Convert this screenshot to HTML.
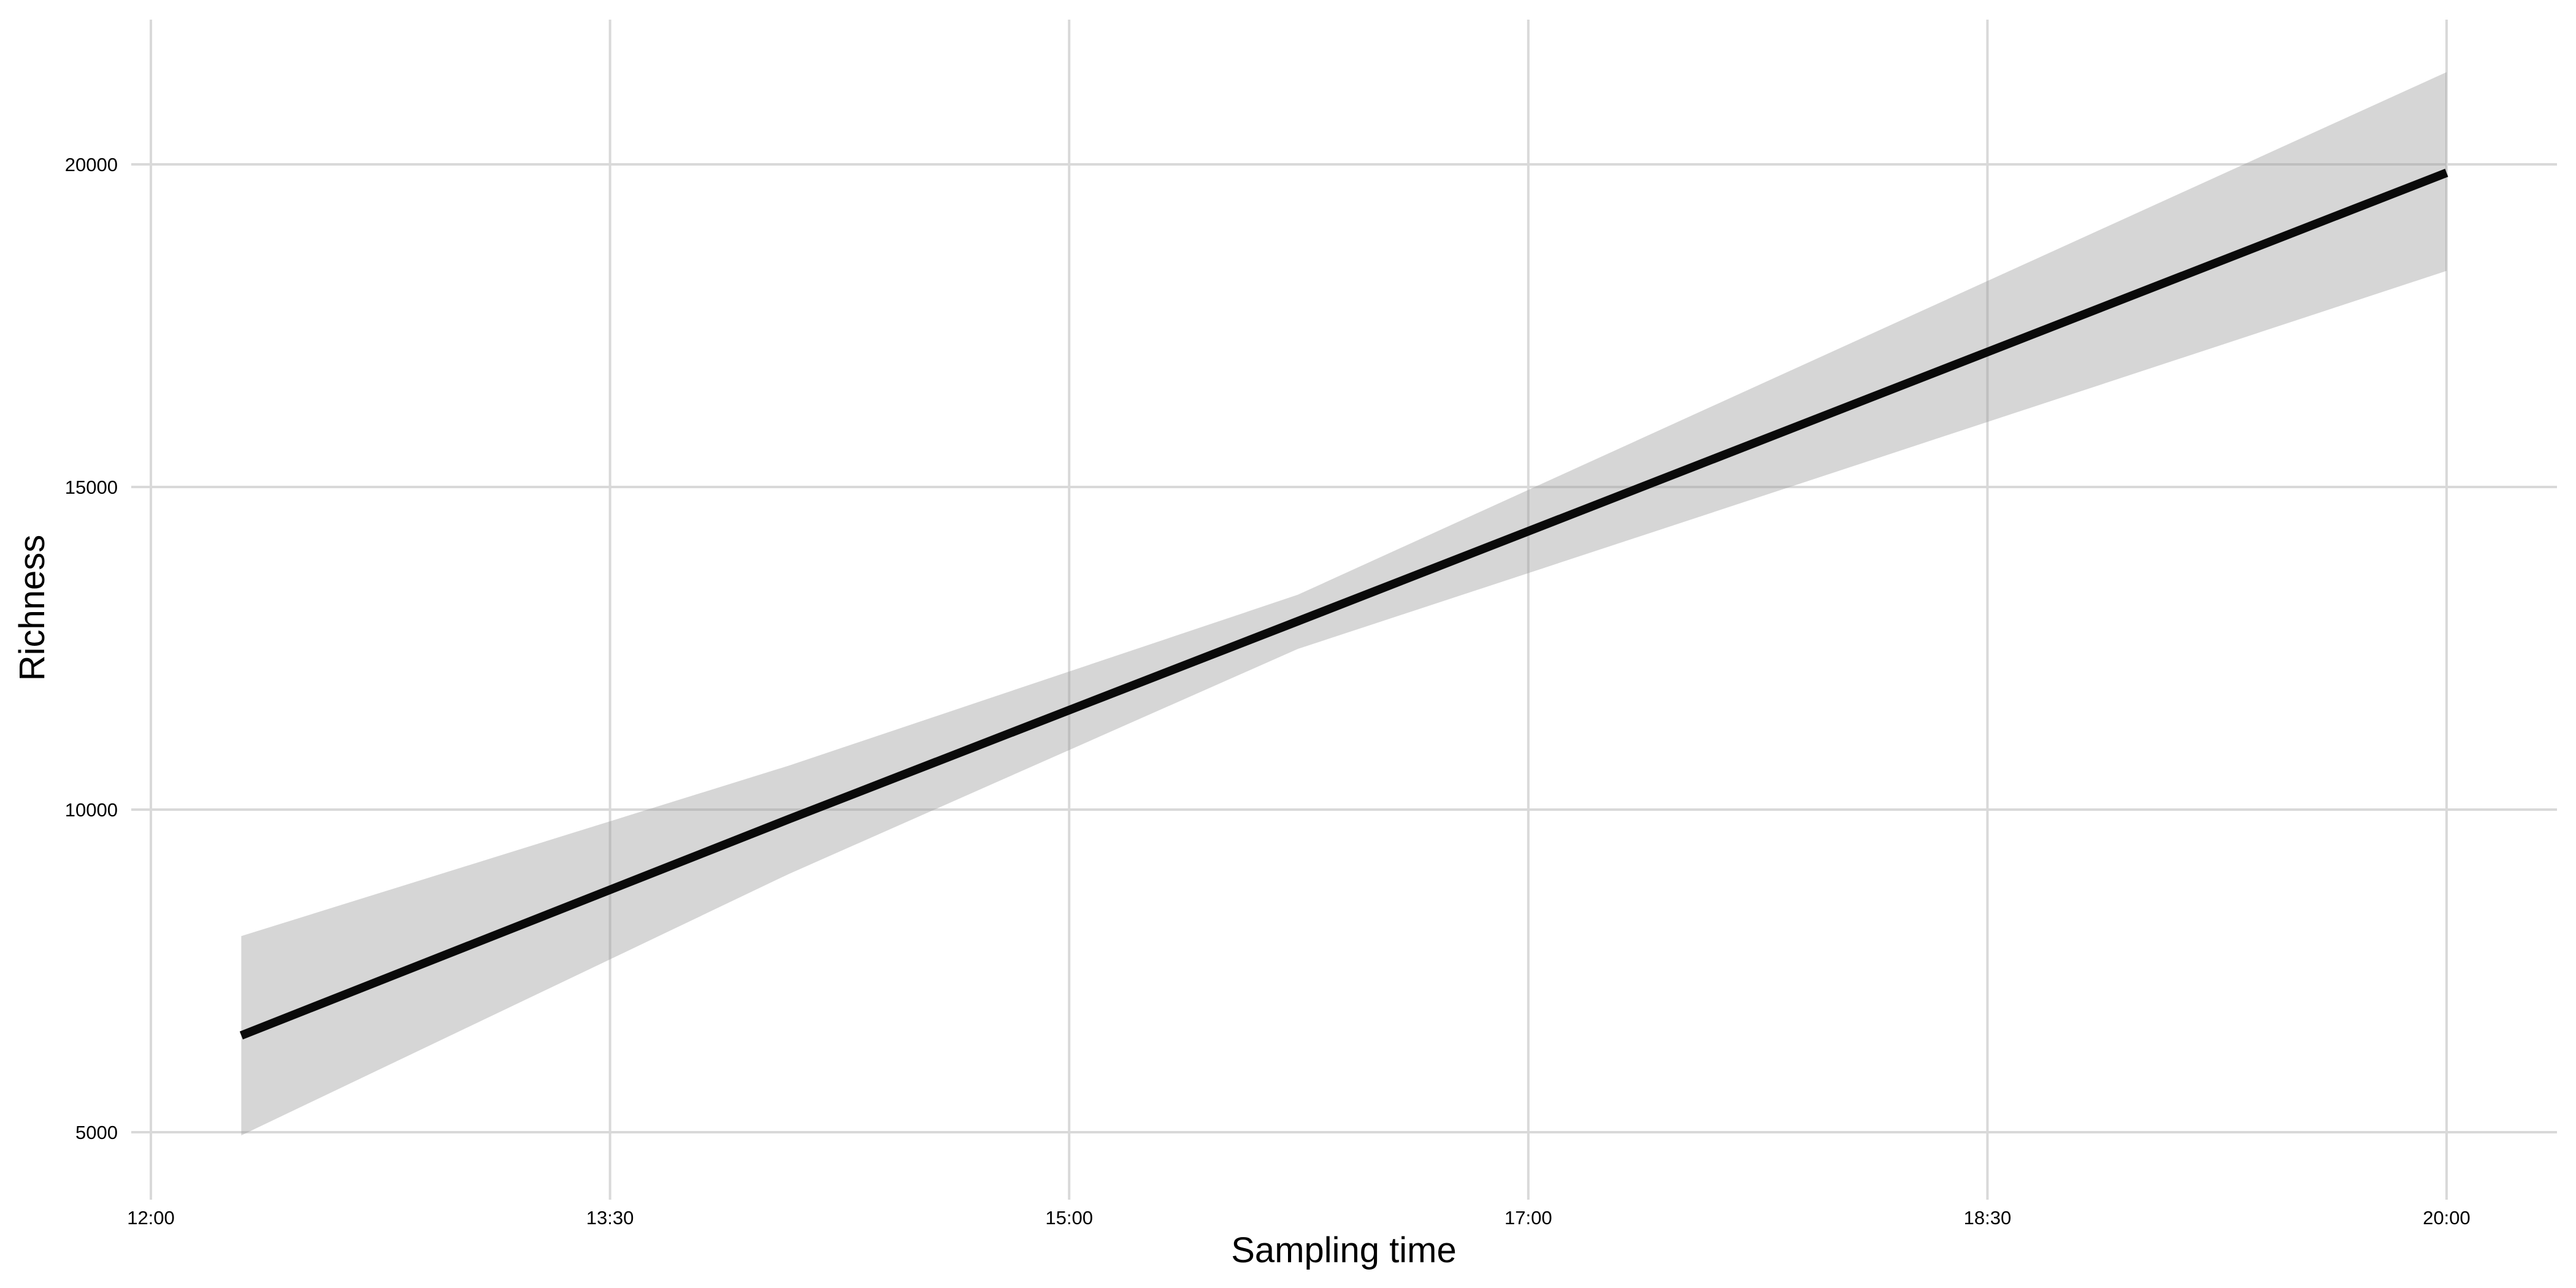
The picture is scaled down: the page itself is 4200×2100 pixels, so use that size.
<!DOCTYPE html>
<html><head><meta charset="utf-8"><style>html,body{margin:0;padding:0;background:#fff}svg{display:block}</style></head>
<body>
<svg id="chart" width="4200" height="2100" xmlns="http://www.w3.org/2000/svg" font-family="Liberation Sans, Arial, sans-serif">
<g id="grid"></g>
<g id="ribbon"></g>
<g id="line"></g>
<g id="axes"></g>
<text x="2191" y="2058" font-size="58" text-anchor="middle">Sampling time</text>
<text transform="translate(72,991) rotate(-90)" font-size="58" text-anchor="middle">Richness</text>
</svg>
<script>
const xTickHours = [0, 1.6, 3.2, 4.8, 6.4, 8];
const xTickText = ["12:00", "13:30", "15:00", "17:00", "18:30", "20:00"];
const yTicks = [5000, 10000, 15000, 20000];
const timeHours = [0.315, 2.222, 3.997, 8];
const fitValues = [6500, 9850, 12920, 19870];
const upperValues = [8040, 10680, 13330, 21430];
const lowerValues = [4950, 9000, 12490, 18350];

const X0 = 246, X1 = 3989, Y5 = 1846, Y20 = 268;
function sx(h){ return X0 + (h/8)*(X1-X0); }
function sy(v){ return Y5 + (v-5000)/15000*(Y20-Y5); }
const NS = "http://www.w3.org/2000/svg";
function mk(tag, parent){ const e = document.createElementNS(NS, tag); document.getElementById(parent).appendChild(e); return e; }

xTickHours.forEach((h,i)=>{
  const l = mk('line','grid');
  
  
  l.setAttribute('x1',sx(h)); l.setAttribute('x2',sx(h)); l.setAttribute('y1',32); l.setAttribute('y2',1956);
  l.setAttribute('stroke','#d9d9d9'); l.setAttribute('stroke-width','4');
  const t = mk('text','axes');
  
  
  t.setAttribute('x',sx(h)); t.setAttribute('y',1996); t.setAttribute('font-size','31'); t.setAttribute('text-anchor','middle');
  t.textContent = xTickText[i];
});
yTicks.forEach(v=>{
  const l = mk('line','grid');
  
  
  l.setAttribute('x1',214); l.setAttribute('x2',4169); l.setAttribute('y1',sy(v)); l.setAttribute('y2',sy(v));
  l.setAttribute('stroke','#d9d9d9'); l.setAttribute('stroke-width','4');
  const t = mk('text','axes');
  
  
  t.setAttribute('x',192); t.setAttribute('y',sy(v)+11); t.setAttribute('font-size','31'); t.setAttribute('text-anchor','end');
  t.textContent = String(v);
});
let pts = timeHours.map((h,i)=>sx(h)+','+sy(upperValues[i]));
for(let i=timeHours.length-1;i>=0;i--) pts.push(sx(timeHours[i])+','+sy(lowerValues[i]));
const rb = mk('polygon','ribbon');


rb.setAttribute('points',pts.join(' ')); rb.setAttribute('fill','#999'); rb.setAttribute('fill-opacity','0.4');
const ln = mk('polyline','line');


ln.setAttribute('points',timeHours.map((h,i)=>sx(h)+','+sy(fitValues[i])).join(' '));
ln.setAttribute('fill','none'); ln.setAttribute('stroke','#0a0a0a'); ln.setAttribute('stroke-width','14');
</script>
</body></html>
